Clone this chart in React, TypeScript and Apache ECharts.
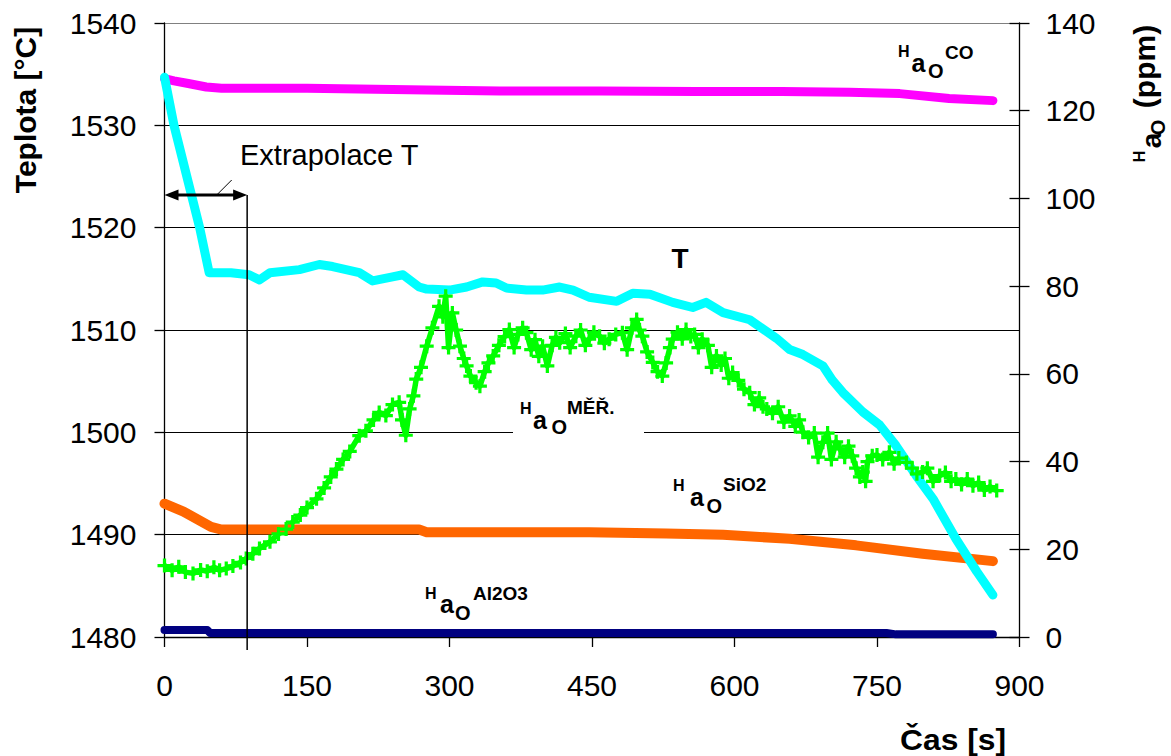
import React, { useEffect, useRef } from "react";
import * as echarts from "echarts";

const FONT = "Arial, 'Liberation Sans', sans-serif";

// X axis (time, s)
const X_MIN = 0, X_MAX = 900, X_STEP = 150;
// Left axis (temperature)
const T_MIN = 1480, T_MAX = 1540, T_STEP = 10;
// Right axis (ppm)
const P_MIN = 0, P_MAX = 140, P_STEP = 20;

// Temperature T [°C]
const tTime = [0, 10, 37, 47, 70, 89, 100, 111, 142, 163, 177, 191, 205, 219, 240, 251, 268, 276, 300, 318, 335, 349, 360, 381, 398, 416, 430, 447, 476, 493, 511, 535, 556, 570, 588, 616, 630, 644, 658, 672, 693, 703, 714, 735, 753, 770, 791, 809, 833, 855, 872];
const tTemp = [1534.7, 1530.0, 1520.0, 1515.6, 1515.6, 1515.4, 1514.9, 1515.6, 1515.9, 1516.4, 1516.2, 1515.9, 1515.6, 1514.8, 1515.2, 1515.4, 1514.2, 1514.0, 1513.9, 1514.2, 1514.7, 1514.6, 1514.1, 1513.9, 1513.9, 1514.2, 1513.9, 1513.2, 1512.8, 1513.6, 1513.5, 1512.7, 1512.2, 1512.7, 1511.7, 1511.0, 1510.1, 1509.2, 1508.1, 1507.6, 1506.5, 1505.1, 1503.9, 1502.0, 1500.7, 1498.7, 1495.8, 1493.5, 1489.6, 1486.4, 1484.1];

// aO CO [ppm]
const coTime = [0, 10, 25, 44, 60, 150, 276, 353, 458, 560, 650, 721, 774, 826, 872];
const coVal = [127.3, 126.8, 126.2, 125.4, 125.1, 125.1, 124.7, 124.5, 124.5, 124.4, 124.4, 124.2, 123.9, 122.8, 122.3];

// aO SiO2 [ppm]
const siTime = [0, 20, 49, 60, 150, 268, 276, 447, 528, 588, 658, 728, 798, 872];
const siVal = [30.4, 28.6, 25.1, 24.5, 24.5, 24.5, 23.9, 23.9, 23.6, 23.3, 22.4, 20.9, 19.0, 17.3];

// aO Al2O3 [ppm]
const alTime = [0, 45, 48, 760, 770, 872];
const alVal = [1.6, 1.6, 0.9, 0.9, 0.6, 0.6];

// aO měřená [ppm]
const mTime = [0, 8, 15, 22, 30, 38, 45, 52, 58, 65, 72, 80, 86, 93, 100, 111, 120, 128, 135, 143, 150, 160, 168, 175, 181, 188, 195, 205, 212, 220, 226, 233, 240, 247, 250, 254, 258, 262, 265, 270, 276, 282, 289, 293, 296, 299, 303, 307, 311, 315, 318, 322, 328, 332, 337, 341, 346, 352, 358, 363, 368, 372, 377, 381, 386, 390, 394, 398, 403, 408, 412, 416, 422, 427, 433, 438, 443, 447, 452, 458, 463, 468, 475, 482, 487, 492, 497, 500, 503, 508, 514, 519, 524, 528, 532, 535, 540, 545, 549, 554, 558, 562, 566, 572, 576, 581, 586, 590, 594, 598, 604, 610, 616, 621, 626, 630, 634, 640, 646, 652, 658, 664, 668, 672, 678, 684, 688, 693, 698, 702, 707, 711, 716, 720, 724, 728, 732, 735, 738, 740, 745, 750, 756, 763, 768, 773, 781, 787, 792, 798, 803, 809, 816, 822, 828, 833, 839, 845, 851, 857, 863, 869, 876];
const mVal = [16.3, 15.2, 16.0, 14.8, 14.5, 15.3, 15.0, 15.9, 15.2, 15.6, 16.2, 17.0, 17.9, 19.0, 20.2, 21.7, 23.5, 24.6, 26.2, 27.8, 29.5, 31.5, 34.0, 36.5, 38.3, 40.5, 42.3, 45.9, 47.0, 49.5, 51.2, 50.5, 53.0, 53.5, 49.5, 46.0, 52.0, 55.0, 58.8, 61.5, 66.3, 70.5, 75.4, 73.0, 77.7, 66.0, 73.9, 70.0, 66.3, 63.5, 61.8, 59.5, 58.0, 57.2, 60.5, 62.5, 64.1, 66.5, 68.5, 70.1, 66.0, 69.0, 70.5, 69.4, 65.5, 67.8, 64.0, 66.3, 61.8, 66.5, 68.3, 67.1, 69.2, 66.0, 68.6, 70.0, 66.5, 67.9, 69.5, 68.6, 67.0, 67.9, 69.0, 69.4, 65.5, 70.5, 72.4, 70.0, 68.6, 65.0, 62.6, 60.5, 59.5, 62.5, 66.0, 67.9, 69.5, 68.0, 70.1, 68.5, 69.0, 66.0, 67.9, 66.5, 61.5, 64.1, 62.0, 63.5, 59.0, 60.3, 58.5, 56.5, 55.7, 53.0, 54.5, 52.5, 52.0, 51.0, 52.5, 49.0, 50.4, 48.0, 49.5, 46.7, 45.5, 46.5, 41.0, 44.4, 46.5, 40.5, 44.5, 42.9, 41.0, 43.5, 41.3, 38.5, 36.5, 37.6, 35.5, 40.0, 41.3, 41.5, 40.5, 42.1, 39.5, 40.8, 39.8, 38.5, 37.2, 37.6, 38.5, 35.5, 36.8, 37.5, 35.5, 36.0, 34.8, 36.0, 34.5, 35.2, 33.5, 34.3, 33.4];

const EXTRAP_TIME = 87;

const zip = (a: number[], b: number[]) => a.map((v, i) => [v, b[i]]);

const PLUS = "path://M4,0h2.4v4h4v2.4h-4v4h-2.4v-4h-4v-2.4h4z";

type Piece = { t: string; x: number; b: number; f: number; align?: string; weight?: string; sx?: number };

const labelPieces: Piece[] = [
  // aO CO
  { t: "H", x: 898, b: 56.7, f: 16 },
  { t: "a", x: 911.5, b: 71.7, f: 25 },
  { t: "O", x: 928, b: 78, f: 20 },
  { t: "CO", x: 945, b: 58.3, f: 19 },
  // aO MĚŘ.
  { t: "H", x: 520, b: 413.3, f: 16 },
  { t: "a", x: 533, b: 428.3, f: 25 },
  { t: "O", x: 551.5, b: 433.3, f: 20 },
  { t: "MĚŘ.", x: 567, b: 413.3, f: 19 },
  // aO SiO2
  { t: "H", x: 673, b: 490.7, f: 16 },
  { t: "a", x: 690, b: 505, f: 25 },
  { t: "O", x: 706.5, b: 512.3, f: 20 },
  { t: "SiO2", x: 723, b: 490.7, f: 19 },
  // aO Al2O3
  { t: "H", x: 425, b: 598.3, f: 16 },
  { t: "a", x: 440, b: 612.3, f: 25 },
  { t: "O", x: 455, b: 620, f: 20 },
  { t: "Al2O3", x: 473, b: 599.3, f: 19 },
  // T
  { t: "T", x: 680, b: 268, f: 28, align: "center" },
  // Extrapolace T
  { t: "Extrapolace T", x: 240, b: 165, f: 29, weight: "normal" },
  // x axis title
  { t: "Čas [s]", x: 953, b: 750, f: 30, align: "center", sx: 1.06 },
];

function buildGraphic(xExtrap: number, xZero: number) {
  const g: any[] = [];
  // white box behind the measured label
  g.push({ type: "rect", z: 1, shape: { x: 513, y: 396, width: 131, height: 44 }, style: { fill: "#fff" } });
  for (const p of labelPieces) {
    g.push({
      type: "text",
      z: 100,
      x: p.x,
      y: p.b - 0.33 * p.f,
      scaleX: p.sx || 1,
      style: {
        text: p.t,
        fill: "#000",
        fontFamily: FONT,
        fontSize: p.f,
        fontWeight: p.weight || "bold",
        align: p.align || "left",
        verticalAlign: "middle",
      },
    });
  }
  // rotated axis titles
  const rot = (t: string, x: number, y: number, f: number) => ({
    type: "text",
    z: 100,
    x,
    y,
    rotation: Math.PI / 2,
    style: { text: t, fill: "#000", fontFamily: FONT, fontSize: f, fontWeight: "bold", align: "center", verticalAlign: "middle" },
  });
  g.push(rot("Teplota [°C]", 25, 110, 30));
  g.push(rot("H", 1139.5, 156.5, 16));
  g.push(rot("a", 1151, 140.5, 28));
  g.push(rot("O", 1158.4, 127.5, 20));
  g.push(rot("(ppm)", 1144, 66.5, 30));
  // extrapolation arrow
  const ay = 195;
  g.push({ type: "line", z: 50, shape: { x1: xZero + 10, y1: ay, x2: xExtrap - 10, y2: ay }, style: { stroke: "#000", lineWidth: 3 } });
  g.push({ type: "polygon", z: 50, shape: { points: [[xZero, ay], [xZero + 14, ay - 5.5], [xZero + 14, ay + 5.5]] }, style: { fill: "#000" } });
  g.push({ type: "polygon", z: 50, shape: { points: [[xExtrap, ay], [xExtrap - 14, ay - 5.5], [xExtrap - 14, ay + 5.5]] }, style: { fill: "#000" } });
  g.push({ type: "line", z: 50, shape: { x1: xExtrap, y1: ay, x2: xExtrap, y2: 650 }, style: { stroke: "#000", lineWidth: 1.5 } });
  g.push({ type: "line", z: 50, shape: { x1: 216.7, y1: ay, x2: 231.7, y2: 180 }, style: { stroke: "#000", lineWidth: 1 } });
  return g;
}

const lineSeries = (name: string, data: number[][], color: string, width: number, yAxisIndex: number) => ({
  name,
  type: "line",
  yAxisIndex,
  data,
  showSymbol: false,
  symbol: "none",
  clip: false,
  lineStyle: { color, width, cap: "round", join: "round" },
});

export default function App() {
  const ref = useRef<HTMLDivElement>(null);
  useEffect(() => {
    document.body.style.margin = "0";
    const chart = echarts.init(ref.current!, null, { renderer: "svg" });
    const axisLabel = { color: "#000", fontSize: 30, fontFamily: FONT, formatter: (v: number) => String(v) };
    const option: any = {
      animation: false,
      backgroundColor: "#fff",
      grid: { left: 164.5, right: 151.5, top: 23, bottom: 119 },
      xAxis: {
        type: "value",
        min: X_MIN,
        max: X_MAX,
        interval: X_STEP,
        axisLine: { show: true, lineStyle: { color: "#000", width: 1.3 } },
        axisTick: { show: true, length: 10, lineStyle: { color: "#000", width: 1.3 } },
        axisLabel: { ...axisLabel, margin: 33 },
        splitLine: { show: false },
      },
      yAxis: [
        {
          type: "value",
          position: "left",
          min: T_MIN,
          max: T_MAX,
          interval: T_STEP,
          axisLine: { show: true, lineStyle: { color: "#000", width: 1.3 } },
          axisTick: { show: true, length: 10, lineStyle: { color: "#000", width: 1.3 } },
          axisLabel: { ...axisLabel, margin: 28 },
          splitLine: { show: true, lineStyle: { color: ["#000", "#000", "#000", "#000", "#000", "#000", "#808080"], width: 1 } },
        },
        {
          type: "value",
          position: "right",
          min: P_MIN,
          max: P_MAX,
          interval: P_STEP,
          axisLine: { show: true, lineStyle: { color: "#000", width: 1.3 } },
          axisTick: { show: true, length: 10, lineStyle: { color: "#000", width: 1.3 } },
          axisLabel: { ...axisLabel, margin: 26 },
          splitLine: { show: false },
        },
        {
          type: "value",
          position: "right",
          min: P_MIN,
          max: P_MAX,
          interval: P_STEP,
          axisLine: { show: false },
          axisTick: { show: true, inside: true, length: 10, lineStyle: { color: "#000", width: 1.3 } },
          axisLabel: { show: false },
          splitLine: { show: false },
        },
      ],
      series: [
        {
          name: "aO měř.",
          type: "line",
          yAxisIndex: 1,
          data: zip(mTime, mVal),
          symbol: PLUS,
          symbolSize: 14,
          showSymbol: true,
          clip: false,
          itemStyle: { color: "#00FF00" },
          lineStyle: { color: "#00FF00", width: 5.5, join: "round" },
        },
        lineSeries("aO SiO2", zip(siTime, siVal), "#FF6600", 10, 1),
        lineSeries("aO CO", zip(coTime, coVal), "#FF00FF", 9, 1),
        lineSeries("aO Al2O3", zip(alTime, alVal), "#000080", 8, 1),
        lineSeries("T", zip(tTime, tTemp), "#00FFFF", 9, 0),
      ],
    };
    chart.setOption(option);
    const xExtrap = chart.convertToPixel({ xAxisIndex: 0 }, EXTRAP_TIME) as number;
    const xZero = chart.convertToPixel({ xAxisIndex: 0 }, X_MIN) as number;
    chart.setOption({ graphic: buildGraphic(xExtrap, xZero) });
    return () => chart.dispose();
  }, []);
  return <div ref={ref} style={{ position: "fixed", left: 0, top: 0, width: 1171, height: 756, background: "#fff" }} />;
}
